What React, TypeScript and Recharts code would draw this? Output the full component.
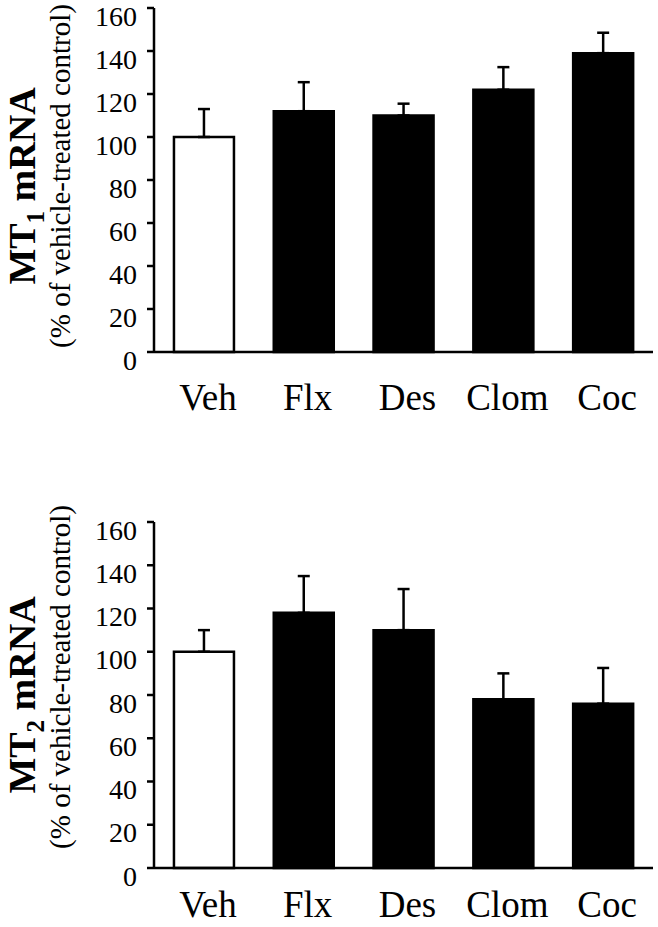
import { Bar, BarChart, Cell, ErrorBar, XAxis, YAxis } from "recharts";

const groups = ["Veh", "Flx", "Des", "Clom", "Coc"];
const mt1Mean = [100, 112, 110, 122, 139];
const mt1Sem = [13, 13.5, 5.5, 10.5, 9.5];
const mt2Mean = [100, 118, 110, 78, 76];
const mt2Sem = [10, 17, 19, 12, 16.5];
const yTicks = [0, 20, 40, 60, 80, 100, 120, 140, 160];
const barFills = ["#ffffff", "#000000", "#000000", "#000000", "#000000"];

const serif = "'Liberation Serif', 'Times New Roman', serif";

const YTick = ({ x, y, payload }: any) => (
  <text x={x} y={y} dy={17.5} textAnchor="end" fontSize={28} fontFamily={serif} fill="#000">
    {payload.value}
  </text>
);

const XTick = ({ x, y, payload, off }: any) => (
  <text x={x + 4} y={y} dy={off} textAnchor="middle" fontSize={37} fontFamily={serif} fill="#000">
    {payload.value}
  </text>
);

interface PanelProps {
  means: number[];
  sems: number[];
  sub: string;
  height: number;
  top: number;
  xAxisHeight: number;
  labelOff: number;
  boldY: number;
  subY: number;
}

function Panel({ means, sems, sub, height, top, xAxisHeight, labelOff, boldY, subY }: PanelProps) {
  const data = groups.map((g, i) => ({ group: g, mean: means[i], err: [0, sems[i]] }));

  // rotated y-axis titles, bold name + unit line
  const axisLabel = () => (
    <g fontFamily={serif} fill="#000">
      <text
        transform={`translate(35,${boldY}) rotate(-90)`}
        textAnchor="middle"
        fontSize={38}
        fontWeight="bold"
      >
        MT
        <tspan fontSize={25} dy={9}>
          {sub}
        </tspan>
        <tspan dy={-9}> mRNA</tspan>
      </text>
      <text transform={`translate(70,${subY}) rotate(-90)`} textAnchor="middle" fontSize={29}>
        (% of vehicle-treated control)
      </text>
    </g>
  );

  return (
    <BarChart
      width={658}
      height={height}
      data={data}
      margin={{ top, right: 5, left: 0, bottom: 0 }}
      barCategoryGap="20%"
    >
      <XAxis
        dataKey="group"
        height={xAxisHeight}
        axisLine={{ stroke: "#000", strokeWidth: 2.5 }}
        tickLine={false}
        tickSize={0}
        tick={<XTick off={labelOff} />}
        interval={0}
      />
      <YAxis
        type="number"
        domain={[0, 160]}
        ticks={yTicks}
        interval={0}
        width={154}
        axisLine={{ stroke: "#000", strokeWidth: 2.5 }}
        tickLine={{ stroke: "#000", strokeWidth: 2.5 }}
        tickSize={7}
        tickMargin={10}
        tick={<YTick />}
        label={{ content: axisLabel }}
      />
      <Bar dataKey="mean" stroke="#000" strokeWidth={2.5} isAnimationActive={false}>
        {data.map((d, i) => (
          <Cell key={d.group} fill={barFills[i]} />
        ))}
        <ErrorBar dataKey="err" direction="y" width={6} stroke="#000" strokeWidth={2.5} />
      </Bar>
    </BarChart>
  );
}

export default function App() {
  return (
    <div style={{ position: "absolute", left: 0, top: 0, width: 658, height: 927, background: "#fff" }}>
      <Panel means={mt1Mean} sems={mt1Sem} sub="1" height={430} top={8} xAxisHeight={78} labelOff={56} boldY={186} subY={176} />
      <Panel means={mt2Mean} sems={mt2Sem} sub="2" height={497} top={92} xAxisHeight={59} labelOff={47} boldY={265} subY={247} />
    </div>
  );
}
